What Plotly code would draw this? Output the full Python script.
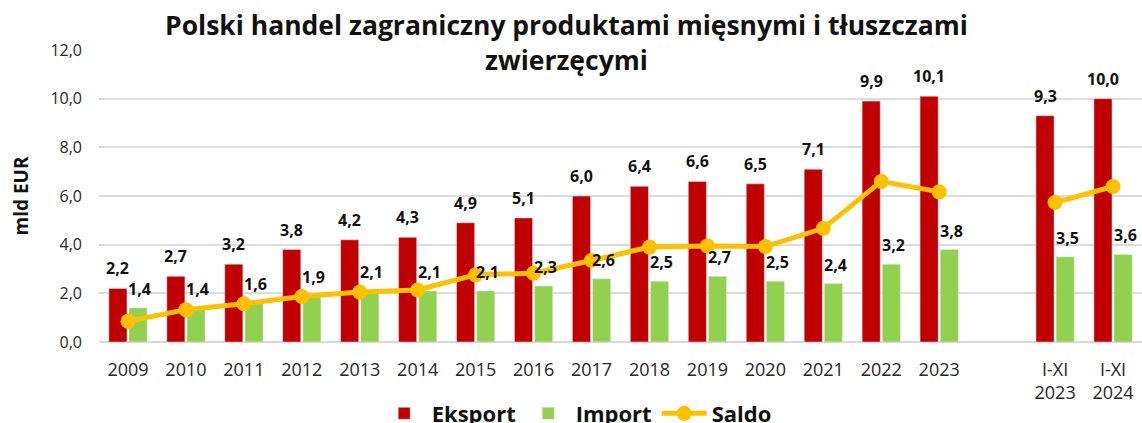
import plotly.graph_objects as go

categories = ["2009", "2010", "2011", "2012", "2013", "2014", "2015", "2016",
              "2017", "2018", "2019", "2020", "2021", "2022", "2023", " ",
              "I-XI<br>2023", "I-XI<br>2024"]
eksport = [2.2, 2.7, 3.2, 3.8, 4.2, 4.3, 4.9, 5.1, 6.0, 6.4, 6.6, 6.5, 7.1, 9.9, 10.1, None, 9.3, 10.0]
import_ = [1.4, 1.4, 1.6, 1.9, 2.1, 2.1, 2.1, 2.3, 2.6, 2.5, 2.7, 2.5, 2.4, 3.2, 3.8, None, 3.5, 3.6]
saldo = [0.85, 1.33, 1.57, 1.87, 2.05, 2.14, 2.76, 2.83, 3.35, 3.9, 3.95, 3.92, 4.67, 6.6, 6.17, None, 5.73, 6.39]
y_ticks = [0, 2, 4, 6, 8, 10, 12]

FONT = "Open Sans"
RED = "#C00000"
GREEN = "#92D050"
GOLD = "#FFC000"

fig = go.Figure()
fig.add_trace(go.Bar(x=categories, y=eksport, name="Eksport", marker_color=RED))
fig.add_trace(go.Bar(x=categories, y=import_, name="Import", marker_color=GREEN))
fig.add_trace(go.Scatter(x=categories, y=saldo, name="Saldo", mode="lines+markers",
                         line=dict(color=GOLD, width=5),
                         marker=dict(color=GOLD, size=15),
                         connectgaps=False))

def fmt(v):
    return f"{v:.1f}".replace(".", ",")

annotations = []
for idx, (e, i) in enumerate(zip(eksport, import_)):
    if e is not None:
        annotations.append(dict(x=idx, y=e, text=f"<b>{fmt(e)}</b>", showarrow=False,
                                xshift=-10, yshift=20, xref="x", yref="y",
                                font=dict(family=FONT, size=16, color="#111111")))
    if i is not None:
        annotations.append(dict(x=idx, y=i, text=f"<b>{fmt(i)}</b>", showarrow=False,
                                xshift=12, yshift=19, xref="x", yref="y",
                                font=dict(family=FONT, size=16, color="#111111")))

fig.update_layout(
    width=1142, height=423,
    margin=dict(l=99, r=0, t=50, b=81, autoexpand=False),
    paper_bgcolor="white", plot_bgcolor="white",
    separators=", ",
    barmode="group", bargap=0.305, bargroupgap=0.1,
    title=dict(text="<b>Polski handel zagraniczny produktami mięsnymi i tłuszczami<br>zwierzęcymi</b>",
               x=0.496, xanchor="center", y=0.917, yanchor="top",
               font=dict(family=FONT, size=26.5, color="#111111")),
    font=dict(family=FONT, color="#404040"),
    legend=dict(orientation="h", x=0.458, xanchor="center", y=-0.245, yanchor="middle",
                font=dict(family=FONT, size=22, color="#111111", weight="bold"),
                itemwidth=45, traceorder="normal", bgcolor="rgba(0,0,0,0)"),
    annotations=annotations,
    showlegend=True,
)
fig.update_xaxes(type="category", categoryorder="array", categoryarray=categories,
                 range=[-0.5, len(categories) - 0.5],
                 tickfont=dict(family=FONT, size=18, color="#262626"),
                 ticklabelstandoff=15, showgrid=False, showline=False, zeroline=False)
fig.update_yaxes(range=[0, 12], tickvals=y_ticks, tickformat=".1f",
                 tickfont=dict(family=FONT, size=16, color="#262626"),
                 gridcolor="#DCDCDC", gridwidth=1.5, zeroline=True, zerolinecolor="#D9D9D9",
                 zerolinewidth=1.5, ticklabelstandoff=16,
                 title=dict(text="<b>mld EUR</b>", standoff=16,
                            font=dict(family=FONT, size=19, color="#111111")))

fig.write_html("out.html", config={"displayModeBar": False},
               post_script="document.body.style.margin='0';")
